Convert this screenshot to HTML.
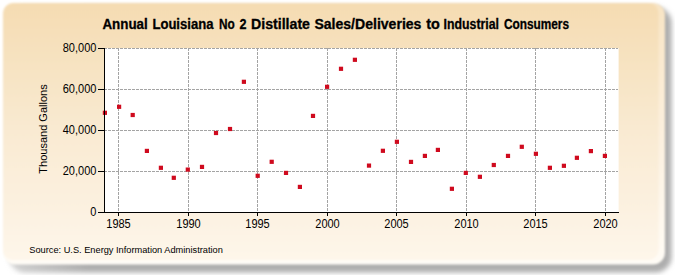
<!DOCTYPE html>
<html><head><meta charset="utf-8"><style>
html,body{margin:0;padding:0;background:#fff;width:675px;height:275px;overflow:hidden}
svg{display:block}
text{font-family:"Liberation Sans",sans-serif;fill:#000}
</style></head><body>
<svg width="675" height="275" viewBox="0 0 675 275">
<defs>
<linearGradient id="bg" x1="0" y1="0" x2="0" y2="1">
<stop offset="0" stop-color="#F5DCB2"/>
<stop offset="0.5" stop-color="#F9EAD2"/>
<stop offset="1" stop-color="#FEF6EA"/>
</linearGradient>
<linearGradient id="rim" x1="0" y1="0" x2="0" y2="1">
<stop offset="0" stop-color="#F8E4C4"/>
<stop offset="0.5" stop-color="#FCF0DE"/>
<stop offset="1" stop-color="#FFFCF6"/>
</linearGradient>
<linearGradient id="shg" x1="0" y1="0" x2="1" y2="0">
<stop offset="0" stop-color="#d2d2d2"/>
<stop offset="0.12" stop-color="#adadad"/>
<stop offset="1" stop-color="#adadad"/>
</linearGradient>
<filter id="blur" x="-10%" y="-10%" width="120%" height="120%"><feGaussianBlur stdDeviation="2.8"/></filter>
<filter id="soft" x="-5%" y="-5%" width="110%" height="110%"><feGaussianBlur stdDeviation="0.8"/></filter>
</defs>
<rect x="9" y="7" width="662.6" height="265.5" rx="16" ry="16" fill="url(#shg)" filter="url(#blur)"/>
<g filter="url(#soft)">
<rect x="3" y="3" width="662" height="261.5" rx="12" ry="12" fill="url(#rim)"/>
<rect x="3" y="3" width="655.5" height="257" rx="10" ry="10" fill="url(#bg)"/>
</g>

<rect x="105" y="48" width="513.6" height="164" fill="#fff"/>
<path d="M104 48.5H618 M104 89.5H618 M104 130.5H618 M104 171.5H618" stroke="#a4a4a4" stroke-width="1" stroke-dasharray="3 1" fill="none" shape-rendering="crispEdges"/>
<path d="M118.5 48V212 M188.5 48V212 M257.5 48V212 M327.5 48V212 M396.5 48V212 M466.5 48V212 M535.5 48V212 M605.5 48V212" stroke="#a4a4a4" stroke-width="1" stroke-dasharray="3 1" fill="none" shape-rendering="crispEdges"/>
<g fill="#cf0a1e"><rect x="102.80" y="110.70" width="4.2" height="4.2"/><rect x="117.00" y="104.70" width="4.2" height="4.2"/><rect x="130.60" y="112.90" width="4.2" height="4.2"/><rect x="144.80" y="148.80" width="4.2" height="4.2"/><rect x="158.80" y="165.70" width="4.2" height="4.2"/><rect x="171.70" y="175.70" width="4.2" height="4.2"/><rect x="185.70" y="167.50" width="4.2" height="4.2"/><rect x="199.90" y="164.80" width="4.2" height="4.2"/><rect x="213.90" y="130.90" width="4.2" height="4.2"/><rect x="227.90" y="126.90" width="4.2" height="4.2"/><rect x="241.80" y="79.70" width="4.2" height="4.2"/><rect x="255.60" y="173.70" width="4.2" height="4.2"/><rect x="269.60" y="159.70" width="4.2" height="4.2"/><rect x="283.90" y="170.80" width="4.2" height="4.2"/><rect x="297.80" y="184.80" width="4.2" height="4.2"/><rect x="310.90" y="113.80" width="4.2" height="4.2"/><rect x="325.00" y="84.70" width="4.2" height="4.2"/><rect x="338.90" y="66.70" width="4.2" height="4.2"/><rect x="352.80" y="57.70" width="4.2" height="4.2"/><rect x="366.90" y="163.50" width="4.2" height="4.2"/><rect x="380.80" y="148.70" width="4.2" height="4.2"/><rect x="394.80" y="139.70" width="4.2" height="4.2"/><rect x="408.90" y="159.80" width="4.2" height="4.2"/><rect x="422.80" y="153.80" width="4.2" height="4.2"/><rect x="435.80" y="147.80" width="4.2" height="4.2"/><rect x="449.80" y="186.70" width="4.2" height="4.2"/><rect x="463.70" y="170.80" width="4.2" height="4.2"/><rect x="477.80" y="174.70" width="4.2" height="4.2"/><rect x="491.70" y="162.90" width="4.2" height="4.2"/><rect x="505.90" y="153.80" width="4.2" height="4.2"/><rect x="519.70" y="144.70" width="4.2" height="4.2"/><rect x="533.80" y="151.70" width="4.2" height="4.2"/><rect x="547.80" y="165.70" width="4.2" height="4.2"/><rect x="561.80" y="163.70" width="4.2" height="4.2"/><rect x="574.80" y="155.70" width="4.2" height="4.2"/><rect x="588.80" y="149.00" width="4.2" height="4.2"/><rect x="602.80" y="153.80" width="4.2" height="4.2"/></g>
<path d="M104.5 48V213 M104 212.5H619 M98 48.5H104 M98 89.5H104 M98 130.5H104 M98 171.5H104 M98 212.5H104 M118.5 213V216 M188.5 213V216 M257.5 213V216 M327.5 213V216 M396.5 213V216 M466.5 213V216 M535.5 213V216 M605.5 213V216" stroke="#000" stroke-width="1" fill="none" shape-rendering="crispEdges"/>
<text x="62.76" y="52.2" font-size="12" textLength="33.64" lengthAdjust="spacingAndGlyphs">80,000</text>
<text x="62.76" y="93.2" font-size="12" textLength="33.64" lengthAdjust="spacingAndGlyphs">60,000</text>
<text x="62.76" y="134.2" font-size="12" textLength="33.64" lengthAdjust="spacingAndGlyphs">40,000</text>
<text x="62.76" y="175.2" font-size="12" textLength="33.64" lengthAdjust="spacingAndGlyphs">20,000</text>
<text x="90.28" y="216.2" font-size="12" textLength="6.12" lengthAdjust="spacingAndGlyphs">0</text>
<text x="106.27" y="228" font-size="12" textLength="24.46" lengthAdjust="spacingAndGlyphs">1985</text>
<text x="176.27" y="228" font-size="12" textLength="24.46" lengthAdjust="spacingAndGlyphs">1990</text>
<text x="245.27" y="228" font-size="12" textLength="24.46" lengthAdjust="spacingAndGlyphs">1995</text>
<text x="315.27" y="228" font-size="12" textLength="24.46" lengthAdjust="spacingAndGlyphs">2000</text>
<text x="384.27" y="228" font-size="12" textLength="24.46" lengthAdjust="spacingAndGlyphs">2005</text>
<text x="454.27" y="228" font-size="12" textLength="24.46" lengthAdjust="spacingAndGlyphs">2010</text>
<text x="523.27" y="228" font-size="12" textLength="24.46" lengthAdjust="spacingAndGlyphs">2015</text>
<text x="593.27" y="228" font-size="12" textLength="24.46" lengthAdjust="spacingAndGlyphs">2020</text>
<g font-size="14" font-weight="bold" stroke="#000" stroke-width="0.3"><text x="102.4" y="28.9" textLength="45.32" lengthAdjust="spacingAndGlyphs">Annual</text><text x="152.4" y="28.9" textLength="61.09" lengthAdjust="spacingAndGlyphs">Louisiana</text><text x="219.0" y="28.9" textLength="15.72" lengthAdjust="spacingAndGlyphs">No</text><text x="239.4" y="28.9" textLength="7.01" lengthAdjust="spacingAndGlyphs">2</text><text x="251.0" y="28.9" textLength="58.96" lengthAdjust="spacingAndGlyphs">Distillate</text><text x="314.4" y="28.9" textLength="107.03" lengthAdjust="spacingAndGlyphs">Sales/Deliveries</text><text x="426.2" y="28.9" textLength="13.62" lengthAdjust="spacingAndGlyphs">to</text><text x="443.6" y="28.9" textLength="55.41" lengthAdjust="spacingAndGlyphs">Industrial</text><text x="503.9" y="28.9" textLength="65.12" lengthAdjust="spacingAndGlyphs">Consumers</text></g>
<text transform="translate(46.5,129) rotate(-90)" font-size="11" text-anchor="middle">Thousand Gallons</text>
<text x="29.3" y="252.8" font-size="9.6" textLength="193.5" lengthAdjust="spacingAndGlyphs">Source: U.S. Energy Information Administration</text>
</svg></body></html>
